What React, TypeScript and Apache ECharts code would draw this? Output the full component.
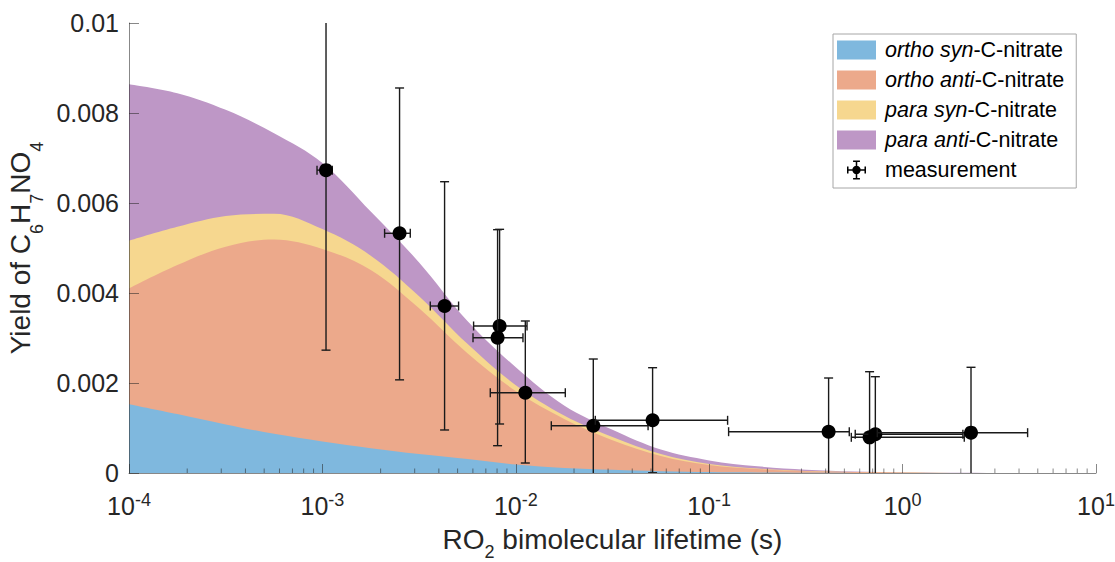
import React, { useEffect, useRef } from 'react';
import * as echarts from 'echarts';

// ---- data ----
// RO2 bimolecular lifetime grid (s) used for the modelled yield curves
const lifetimeGrid = [1e-4, 1.778e-4, 3.162e-4, 5.623e-4, 1e-3, 1.778e-3, 3.162e-3, 5.623e-3, 1e-2, 1.778e-2, 3.162e-2, 5.623e-2, 1e-1, 1.778e-1, 3.162e-1, 5.623e-1, 1, 1.778, 3.162, 10];
// individual (un-stacked) contributions of each isomer
const orthoSyn = [0.00153, 0.00131, 0.00108, 0.00087, 0.0007, 0.00055, 0.00042, 0.00031, 0.00019, 0.00011, 0.00007, 0.00004, 0.00002, 0.00001, 0.000005, 0.000002, 0, 0, 0, 0];
const orthoAnti = [0.00257, 0.00331, 0.00395, 0.00432, 0.00428, 0.00396, 0.00324, 0.00235, 0.00163, 0.00109, 0.00066, 0.00034, 0.00016, 0.00008, 0.000035, 0.000018, 0.000008, 0.000002, 0, 0];
const paraSyn = [0.00106, 0.00085, 0.00068, 0.00057, 0.00044, 0.00032, 0.00027, 0.00021, 0.00013, 0.00008, 0.00007, 0.00004, 0.00002, 0.00001, 0.000005, 0.000003, 0.000002, 0, 0, 0];
const paraAnti = [0.00348, 0.00297, 0.00236, 0.00179, 0.00147, 0.00098, 0.00075, 0.00051, 0.0004, 0.00022, 0.00016, 0.0001, 0.00008, 0.00005, 0.00003, 0.00001, 0.000005, 0.000001, 0, 0];

// measurements with error-bar ends
const measX = [1.044e-3, 2.506e-3, 4.283e-3, 8.245e-3, 8.05e-3, 1.12e-2, 2.516e-2, 5.097e-2, 0.4144, 0.675, 0.7228, 2.258];
const measY = [0.00673, 0.005327, 0.003711, 0.003267, 0.003007, 0.001784, 0.001051, 0.001171, 0.000918, 0.000793, 0.00086, 0.000896];
const measYLow = [0.00273, 0.00207, 0.000956, 0.001089, 0.000607, 0.000222, -0.00043, 0.000005, -0.00028, -0.00066, -0.00042, -0.00056];
const measYHigh = [0.0107, 0.008556, 0.006473, 0.005415, 0.005407, 0.003378, 0.002533, 0.00234, 0.002111, 0.002251, 0.00214, 0.002349];
const measXLow = [9.38e-4, 2.097e-3, 3.613e-3, 6.05e-3, 6.008e-3, 7.38e-3, 1.526e-2, 2.577e-2, 0.126, 0.543, 0.569, 0.74];
const measXHigh = [1.125e-3, 2.847e-3, 5.06e-3, 1.143e-2, 1.089e-2, 1.803e-2, 4.83e-2, 0.1245, 0.53, 2.084, 2.05, 4.43];

// tick labels
const yTickLabels = ['0', '0.002', '0.004', '0.006', '0.008', '0.01'];
const xTickExponents = ['-4', '-3', '-2', '-1', '0', '1'];
const minorMultipliers = [2, 3, 4, 5, 6, 7, 8, 9];
const minorDecades = [1e-4, 1e-3, 1e-2, 1e-1, 1];

const FONT = '"Liberation Sans", Arial, Helvetica, sans-serif';
const TEXT = '#262626';
const AXIS = 'rgba(38,38,38,0.55)';

const areaDefs = [
  { name: 'ortho syn-C-nitrate', italic: 'ortho syn', values: orthoSyn, color: '#7FB8DE' },
  { name: 'ortho anti-C-nitrate', italic: 'ortho anti', values: orthoAnti, color: '#ECA98B' },
  { name: 'para syn-C-nitrate', italic: 'para syn', values: paraSyn, color: '#F6D78F' },
  { name: 'para anti-C-nitrate', italic: 'para anti', values: paraAnti, color: '#BE97C6' },
];

const MEAS_ICON =
  'path://M11.5 0h2v25h-2z M8 0h9v2h-9z M8 23h9v2h-9z M0 11.5h25v2h-25z M0 8h2v9h-2z M23 8h2v9h-2z M7 12.5a5.5 5.5 0 1 1 11 0a5.5 5.5 0 1 1 -11 0z';

const LEGEND_FS = 21.5;

function buildOption() {
  // cumulative tops (stack built here, drawn back-to-front)
  const cumulative: number[][] = [];
  areaDefs.forEach((d, k) => {
    cumulative.push(d.values.map((v, i) => v + (k > 0 ? cumulative[k - 1][i] : 0)));
  });
  const areaSeries = areaDefs
    .map((d, k) => ({
      type: 'line',
      name: d.name,
      smooth: 0.35,
      showSymbol: false,
      symbol: 'none',
      silent: true,
      color: d.color,
      itemStyle: { color: d.color },
      lineStyle: { width: 0, color: d.color },
      areaStyle: { color: d.color, opacity: 1 },
      data: lifetimeGrid.map((x, i) => [x, cumulative[k][i]]),
      z: 2,
    }))
    .reverse();

  const minorTicks: number[][] = [];
  minorDecades.forEach((dec) => minorMultipliers.forEach((m) => minorTicks.push([m * dec, 0])));

  const italicMap: Record<string, string> = {};
  areaDefs.forEach((d) => (italicMap[d.name] = d.italic));

  return {
    animation: false,
    grid: { left: 129, right: 19, top: 23, bottom: 89, containLabel: false, outerBoundsMode: 'none' },
    legend: {
      orient: 'vertical',
      left: 833,
      top: 34,
      padding: [5, 12, 7, 4],
      itemGap: 8,
      itemWidth: 39,
      itemHeight: 19,
      backgroundColor: '#ffffff',
      borderColor: '#a6a6a6',
      borderWidth: 1,
      selectedMode: false,
      z: 10,
      textStyle: {
        fontFamily: FONT,
        fontSize: LEGEND_FS,
        color: '#000',
        lineHeight: 19,
        padding: [0, 0, 0, 4],
        rich: { i: { fontStyle: 'italic', fontFamily: FONT, fontSize: LEGEND_FS, color: '#000', lineHeight: 19 } },
      },
      formatter: (name: string) => {
        const it = italicMap[name];
        return it ? `{i|${it}}${name.slice(it.length)}` : name;
      },
      data: [
        ...areaDefs.map((d) => ({ name: d.name, icon: 'rect' })),
        { name: 'measurement', icon: MEAS_ICON, itemStyle: { color: '#000' } },
      ],
    },
    xAxis: {
      type: 'log',
      logBase: 10,
      min: 1e-4,
      max: 10,
      z: 3,
      axisLine: { show: true, lineStyle: { color: AXIS, width: 1 } },
      axisTick: { show: true, inside: true, length: 9, lineStyle: { color: AXIS, width: 1 } },
      splitLine: { show: false },
      axisLabel: {
        margin: 18,
        fontFamily: FONT,
        fontSize: 25,
        color: TEXT,
        lineHeight: 29,
        formatter: (v: number) => {
          const e = Math.round(Math.log10(v));
          return `10{sup|${xTickExponents[e + 4]}}`;
        },
        rich: { sup: { fontFamily: FONT, fontSize: 18, color: TEXT, lineHeight: 16, verticalAlign: 'top' } },
      },
      name: 'RO{sub|2} bimolecular lifetime (s)',
      nameLocation: 'middle',
      nameGap: 44,
      nameMoveOverlap: false,
      nameTextStyle: {
        fontFamily: FONT,
        fontSize: 28,
        color: TEXT,
        lineHeight: 44,
        rich: { sub: { fontFamily: FONT, fontSize: 18, color: TEXT, lineHeight: 18, verticalAlign: 'bottom' } },
      },
    },
    yAxis: {
      type: 'value',
      min: 0,
      max: 0.01,
      interval: 0.002,
      z: 3,
      axisLine: { show: true, lineStyle: { color: AXIS, width: 1 } },
      axisTick: { show: true, inside: true, length: 10, lineStyle: { color: AXIS, width: 1 } },
      splitLine: { show: false },
      axisLabel: {
        margin: 10,
        fontFamily: FONT,
        fontSize: 25,
        color: TEXT,
        formatter: (v: number) => yTickLabels[Math.round(v / 0.002)],
      },
      name: 'Yield of C{sub|6}H{sub|7}NO{sub|4}',
      nameLocation: 'middle',
      nameRotate: 90,
      nameGap: 79,
      nameTextStyle: {
        fontFamily: FONT,
        fontSize: 28,
        color: TEXT,
        lineHeight: 50,
        rich: { sub: { fontFamily: FONT, fontSize: 18, color: TEXT, lineHeight: 18, verticalAlign: 'bottom' } },
      },
    },
    series: [
      ...areaSeries,
      {
        type: 'custom',
        name: 'minorTicks',
        silent: true,
        z: 3,
        clip: false,
        data: minorTicks,
        renderItem: (_p: any, api: any) => {
          const c = api.coord([api.value(0), 0]);
          return {
            type: 'line',
            shape: { x1: c[0], y1: c[1], x2: c[0], y2: c[1] - 4.5 },
            style: { stroke: AXIS, lineWidth: 1 },
          };
        },
      },
      {
        type: 'custom',
        name: 'measurement',
        z: 5,
        clip: true,
        itemStyle: { color: '#000' },
        encode: { x: [0, 2, 3], y: [1, 4, 5] },
        data: measX.map((x, i) => [x, measY[i], measXLow[i], measXHigh[i], measYLow[i], measYHigh[i]]),
        renderItem: (_p: any, api: any) => {
          const x = api.value(0);
          const y = api.value(1);
          const c = api.coord([x, y]);
          const xl = api.coord([api.value(2), y])[0];
          const xh = api.coord([api.value(3), y])[0];
          const yl = api.coord([x, api.value(4)])[1];
          const yh = api.coord([x, api.value(5)])[1];
          const st = { stroke: '#1a1a1a', lineWidth: 1.4 };
          const cap = 4.5;
          const ln = (x1: number, y1: number, x2: number, y2: number) => ({
            type: 'line',
            shape: { x1, y1, x2, y2 },
            style: st,
          });
          return {
            type: 'group',
            children: [
              ln(c[0], yl, c[0], yh),
              ln(c[0] - cap, yl, c[0] + cap, yl),
              ln(c[0] - cap, yh, c[0] + cap, yh),
              ln(xl, c[1], xh, c[1]),
              ln(xl, c[1] - cap, xl, c[1] + cap),
              ln(xh, c[1] - cap, xh, c[1] + cap),
              { type: 'circle', shape: { cx: c[0], cy: c[1], r: 7 }, style: { fill: '#000' } },
            ],
          };
        },
      },
    ],
  };
}

export default function App() {
  const ref = useRef<HTMLDivElement>(null);
  useEffect(() => {
    document.body.style.margin = '0';
    const chart = echarts.init(ref.current as HTMLDivElement, null, { renderer: 'svg' });
    chart.setOption(buildOption() as any);
    return () => chart.dispose();
  }, []);
  return <div ref={ref} style={{ width: 1115, height: 562 }} />;
}
